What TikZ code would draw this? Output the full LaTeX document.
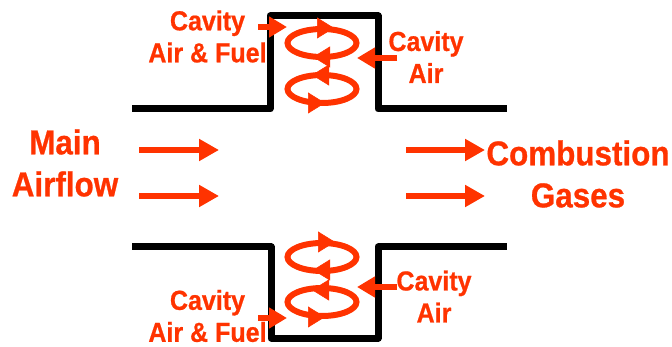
\documentclass[tikz,border=0pt]{standalone}
\usepackage{fontspec}
\setmainfont[FakeStretch=0.91,BoldFeatures={FakeBold=0.7}]{Liberation Sans}
\usepackage{xcolor}
\usetikzlibrary{shapes.geometric, arrows.meta}
\definecolor{flame}{HTML}{FF3300}

\begin{document}
\begin{tikzpicture}[
    x=1pt, y=-1pt,
    biglabel/.style={text=flame, align=center, inner sep=0pt, font=\fontsize{34.5}{42}\selectfont\bfseries},
    smalllabel/.style={text=flame, align=center, inner sep=0pt, font=\fontsize{27.5}{32}\selectfont\bfseries},
    wall/.style={line width=7pt, black, line join=round},
    swirl/.style={ellipse, draw=flame, line width=6pt, minimum width=69pt, minimum height=28pt, inner sep=0pt, outer sep=0pt},
    swirltip/.style={-{Triangle[length=17pt,width=21pt]}, flame, line width=0.5pt},
    arrow/.style={-{Triangle[length=20pt,width=21pt]}, flame, line width=6.5pt},
    inarrow/.style={-{Triangle[length=18pt,width=20pt]}, flame, line width=6.5pt}
]
\useasboundingbox (0,0) rectangle (672,347);
% Walls
\draw[wall] (132,109) -- (270,109) -- (270,16) -- (378,16) -- (378,109) -- (507,109);
\draw[wall] (132,247) -- (271,247) -- (271,338) -- (378,338) -- (378,247) -- (507,247);
% Swirls
\node[swirl] (swirlA) at (322,43) {};
\node[swirl] (swirlB) at (322,89) {};
\node[swirl] (swirlC) at (322,257) {};
\node[swirl] (swirlD) at (322,302) {};
\draw[swirltip] ([xshift=-5pt,yshift=1pt]swirlA.north) -- ([xshift=12pt,yshift=1pt]swirlA.north);
\draw[swirltip] ([xshift=5pt]swirlA.south) -- ([xshift=-9pt]swirlA.south);
\draw[swirltip] ([xshift=5pt]swirlB.north) -- ([xshift=-10pt]swirlB.north);
\draw[swirltip] ([xshift=-14pt]swirlB.south) -- ([xshift=3pt]swirlB.south);
\draw[swirltip] ([xshift=-4pt,yshift=1pt]swirlC.north) -- ([xshift=13pt,yshift=1pt]swirlC.north);
\draw[swirltip] ([xshift=5pt,yshift=1pt]swirlC.south) -- ([xshift=-9pt,yshift=1pt]swirlC.south);
\draw[swirltip] ([xshift=5pt,yshift=-2pt]swirlD.north) -- ([xshift=-10pt,yshift=-2pt]swirlD.north);
\draw[swirltip] ([xshift=-14pt,yshift=-1pt]swirlD.south) -- ([xshift=3pt,yshift=-1pt]swirlD.south);
% Labels
\node[biglabel] (main) at (65,163) {Main\\Airflow};
\node[biglabel] (gases) at (578,174) {Combustion\\Gases};
\node[smalllabel] (topfuel) at (207.5,36.5) {Cavity\\Air \& Fuel};
\node[smalllabel] (topair) at (426,57) {Cavity\\Air};
\node[smalllabel] (lowfuel) at (207.5,316) {Cavity\\Air \& Fuel};
\node[smalllabel] (lowair) at (434,296.5) {Cavity\\Air};
% Arrow ends
\coordinate (mainAs) at (139,150);
\coordinate (mainAe) at (219,150);
\coordinate (mainBs) at (139,196);
\coordinate (mainBe) at (219,196);
\coordinate (gasAs) at (406,150);
\coordinate (gasAe) at (485,150);
\coordinate (gasBs) at (406,196);
\coordinate (gasBe) at (485,196);
\coordinate (fuelAs) at (258,27);
\coordinate (fuelAe) at (287,27);
\coordinate (airAs) at (397,58);
\coordinate (airAe) at (357,58);
\coordinate (fuelBs) at (258,318);
\coordinate (fuelBe) at (287,318);
\coordinate (airBs) at (397,287);
\coordinate (airBe) at (357,287);
% Arrows
\draw[arrow] (mainAs) -- (mainAe);
\draw[arrow] (mainBs) -- (mainBe);
\draw[arrow] (gasAs) -- (gasAe);
\draw[arrow] (gasBs) -- (gasBe);
\draw[inarrow] (fuelAs) -- (fuelAe);
\draw[inarrow] (airAs) -- (airAe);
\draw[inarrow] (fuelBs) -- (fuelBe);
\draw[inarrow] (airBs) -- (airBe);
\end{tikzpicture}
\end{document}
